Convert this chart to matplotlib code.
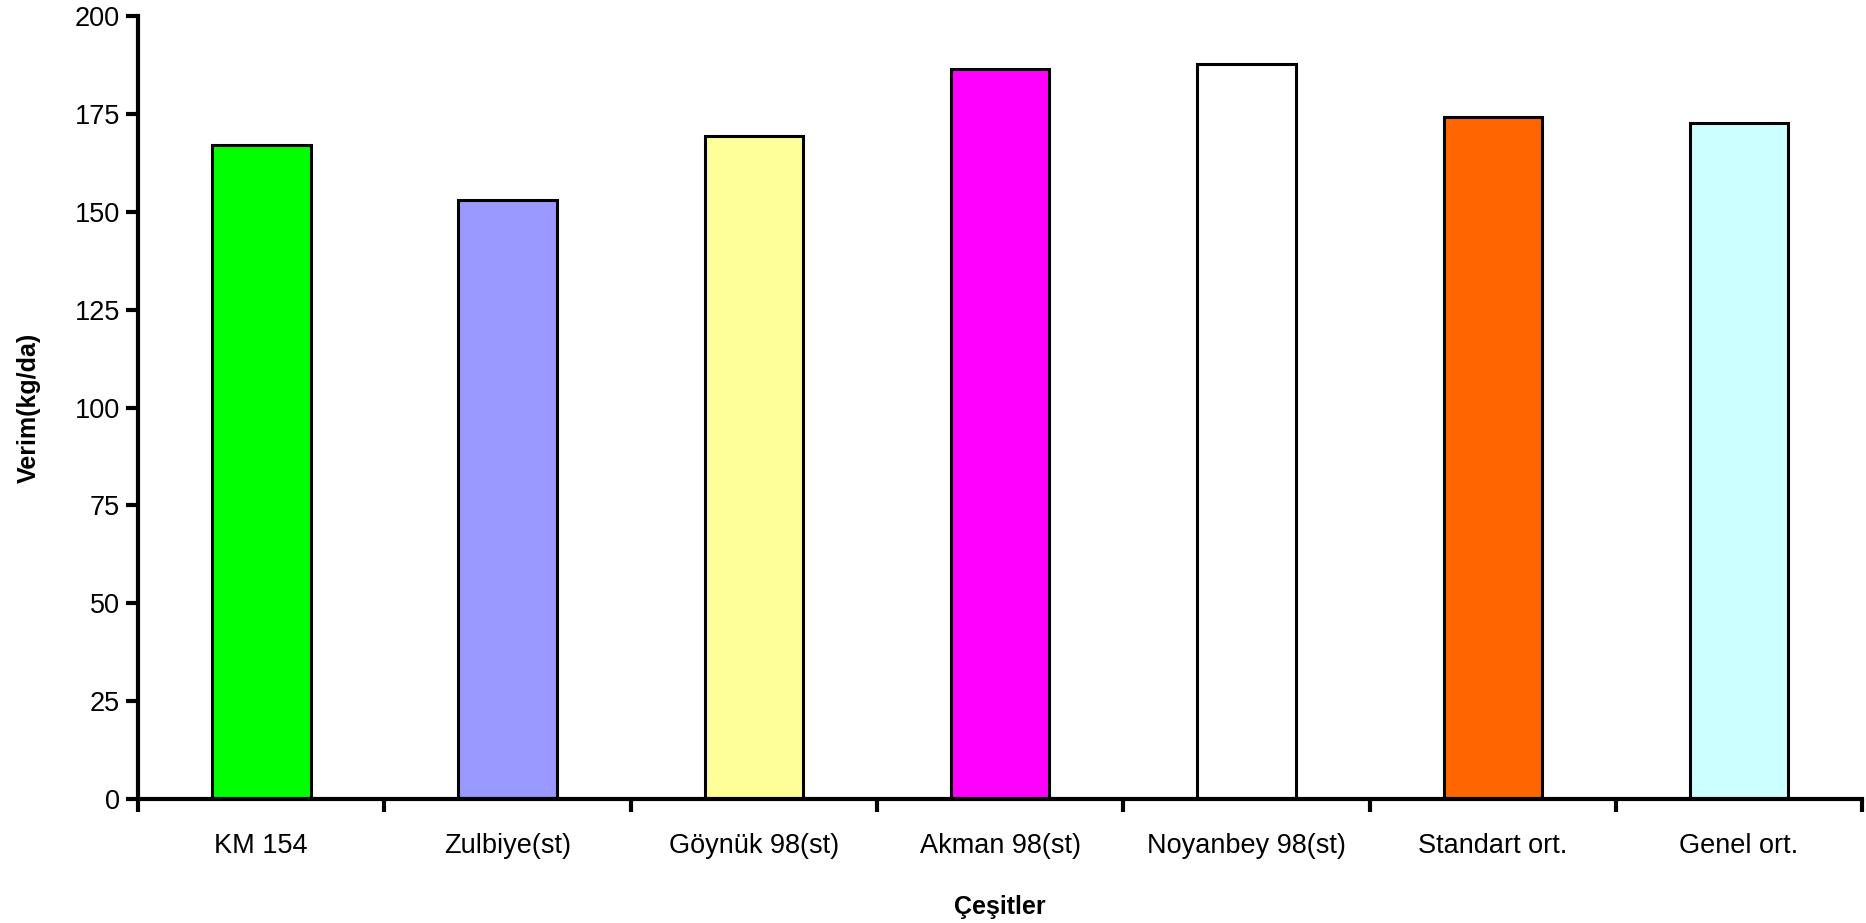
import matplotlib
matplotlib.use("Agg")
import matplotlib.pyplot as plt
import numpy as np

plt.rcParams['font.family'] = ['Liberation Sans', 'DejaVu Sans']

categories = ["KM 154", "Zulbiye(st)", "Göynük 98(st)", "Akman 98(st)",
              "Noyanbey 98(st)", "Standart ort.", "Genel ort."]
verim = [167.1, 152.9, 169.3, 186.4, 187.7, 174.1, 172.7]
colors = ["#00FF00", "#9999FF", "#FFFF99", "#FF00FF", "#FFFFFF", "#FF6600", "#CCFFFF"]
yticks = [0, 25, 50, 75, 100, 125, 150, 175, 200]

fig = plt.figure(figsize=(18.66, 9.23), dpi=100)
ax = fig.add_axes([0.074, 0.134, 0.924, 0.849])

x = np.arange(len(categories))
ax.bar(x, verim, width=0.40, color=colors, edgecolor="black", linewidth=2.2, zorder=2)

ax.set_xlim(-0.5, len(categories) - 0.5)
ax.set_ylim(0, 200)
ax.set_yticks(yticks)
ax.set_yticklabels([str(t) for t in yticks], fontsize=19.5)

# category labels centred on bars, tick marks on category boundaries
ax.set_xticks(x)
ax.set_xticklabels(categories, fontsize=19.5)
ax.tick_params(axis="x", which="major", length=0, pad=24)
ax.set_xticks(np.arange(-0.5, len(categories)), minor=True)
ax.tick_params(axis="x", which="minor", length=9, width=3, direction="out")
ax.tick_params(axis="y", length=9, width=3, direction="out", pad=4)

for side in ["top", "right"]:
    ax.spines[side].set_visible(False)
for side in ["left", "bottom"]:
    ax.spines[side].set_linewidth(3)

ax.set_ylabel("Verim(kg/da)", fontsize=18, fontweight="bold", labelpad=24)
ax.set_xlabel("Çeşitler", fontsize=18, fontweight="bold", labelpad=26)

fig.savefig("out.png", dpi=100, facecolor="white")
